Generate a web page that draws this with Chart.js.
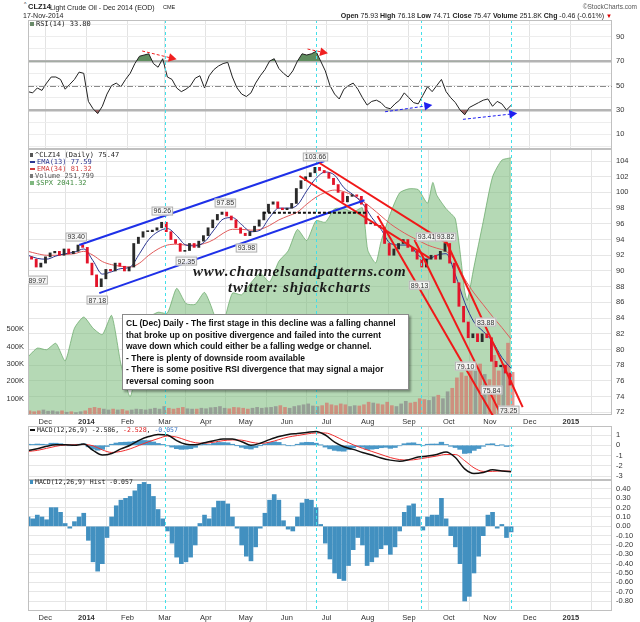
<!DOCTYPE html>
<html>
<head>
<meta charset="utf-8">
<title>CLZ14 Light Crude Oil - Dec 2014</title>
<script src="https://cdn.jsdelivr.net/npm/chart.js@4.4.1/dist/chart.umd.min.js"></script>
<style>
  html, body { margin: 0; padding: 0; background: #fff; }
  #page { position: relative; width: 640px; height: 622px; overflow: hidden;
          font-family: "Liberation Sans", Arial, sans-serif; color: #222; }
  #page canvas { position: absolute; left: 0; }
  .t { position: absolute; white-space: nowrap; line-height: 1; }
  .mono { font-family: "DejaVu Sans Mono", "Liberation Mono", monospace; font-size: 7px; }
  .key { display: inline-block; width: 5px; height: 2px; margin-right: 2px; vertical-align: middle; }
  #note { position: absolute; left: 122px; top: 314px; width: 282px; height: 71px; padding: 3px 0 0 3px;
          background: #fff; border: 1px solid #8a8a8a; box-shadow: 2px 2px 2px rgba(0,0,0,.35);
          font-weight: bold; font-size: 8.5px; line-height: 11.6px; color: #111; white-space: nowrap; }
  .wm { position: absolute; font-family: "Liberation Serif", "DejaVu Serif", serif; font-style: italic;
        font-weight: bold; font-size: 15px; letter-spacing: 0.8px; color: #1a1a1a; white-space: nowrap; line-height: 1; }
</style>
</head>
<body>
<div id="page">
  <canvas id="rsiChart" width="640" height="129" style="top:20px"></canvas>
  <canvas id="priceChart" width="640" height="278" style="top:149px"></canvas>
  <canvas id="macdChart" width="640" height="54" style="top:426px"></canvas>
  <canvas id="histChart" width="640" height="142" style="top:480px"></canvas>

  <!-- header -->
  <div class="t" style="left:24px;top:2px;font-size:5px;">^</div>
  <div class="t" style="left:28px;top:3px;font-size:7.5px;font-weight:bold;">CLZ14</div>
  <div class="t" style="left:50px;top:3.5px;font-size:7px;">Light Crude Oil - Dec 2014 (EOD)</div>
  <div class="t" style="left:163px;top:4.5px;font-size:5.5px;">CME</div>
  <div class="t" style="left:23px;top:12px;font-size:7px;">17-Nov-2014</div>
  <div class="t" style="right:3px;top:4px;font-size:6.5px;color:#555;">&copy;StockCharts.com</div>
  <div class="t" style="right:28px;top:12px;font-size:7px;">
    <b>Open</b> 75.93 <b>High</b> 76.18 <b>Low</b> 74.71 <b>Close</b> 75.47 <b>Volume</b> 251.8K <b>Chg</b> -0.46 (-0.61%) <span style="color:#d00;font-size:6px;">&#9660;</span>
  </div>

  <!-- panel legends -->
  <div class="t mono" style="left:30px;top:21px;"><span class="key" style="background:#6a8a6a;height:4px;width:4px;"></span>RSI(14) 33.80</div>
  <div class="t mono" style="left:30px;top:152px;"><span class="key" style="background:#555;height:4px;width:3px;"></span>^CLZ14 (Daily) 75.47</div>
  <div class="t mono" style="left:30px;top:159px;color:#2a3590;"><span class="key" style="background:#2a3590;"></span>EMA(13) 77.59</div>
  <div class="t mono" style="left:30px;top:166px;color:#d03c3c;"><span class="key" style="background:#d03c3c;"></span>EMA(34) 81.32</div>
  <div class="t mono" style="left:30px;top:173px;color:#555;"><span class="key" style="background:#777;height:4px;width:3px;"></span>Volume 251,799</div>
  <div class="t mono" style="left:30px;top:180px;color:#3f8a3f;"><span class="key" style="background:#7fb87f;height:4px;width:4px;"></span>$SPX 2041.32</div>
  <div class="t mono" style="left:30px;top:427px;font-size:6.5px;"><span class="key" style="background:#111;"></span>MACD(12,26,9) -2.586, <span style="color:#e02020">-2.528</span>, <span style="color:#3a78c8">-0.057</span></div>
  <div class="t mono" style="left:30px;top:479px;font-size:6.5px;"><span class="key" style="background:#3f8fbf;height:4px;width:3px;"></span>MACD(12,26,9) Hist -0.057</div>

  <!-- watermark -->
  <div class="wm" style="left:193px;top:264px;">www.channelsandpatterns.com</div>
  <div class="wm" style="left:228px;top:280px;">twitter: shjackcharts</div>

  <!-- comment box -->
  <div id="note">CL (Dec) Daily - The first stage in this decline was a falling channel<br>that broke up on positive divergence and failed into the current<br>wave down which could either be a falling wedge or channel.<br>- There is plenty of downside room available<br>- There is some positive RSI divergence that may signal a major<br>reversal coming soon</div>
</div>

<script>
// ── data: two samples a week from 18-Nov-2013 (day 0) to 17-Nov-2014 (day 364) ──
const closes = [
  91.8, 91.5, 90.5, 91.0, 91.8, 92.3, 92.5, 92.0, 92.8, 92.2,
  92.5, 93.3, 93.0, 91.0, 89.5, 88.0, 89.0, 90.2, 90.0, 91.0,
  90.6, 90.0, 90.5, 93.5, 94.3, 95.0, 95.0, 95.2, 95.5, 96.2,
  95.0, 94.0, 93.5, 92.5, 92.6, 93.5, 93.0, 93.8, 94.5, 95.5,
  96.5, 97.2, 97.5, 97.0, 96.5, 95.5, 94.8, 94.5, 95.0, 95.7,
  96.5, 97.5, 98.5, 98.8, 98.0, 97.8, 98.0, 98.6, 100.5, 101.5,
  102.0, 102.5, 103.2, 102.8, 102.5, 101.8, 101.0, 100.0, 98.8, 99.5,
  99.7, 99.5, 98.5, 96.0, 96.0, 95.8, 95.5, 93.5, 92.0, 92.8,
  93.5, 94.0, 93.0, 92.5, 91.5, 90.5, 91.5, 92.0, 91.5, 92.5,
  93.5, 91.0, 88.5, 85.5, 83.5, 81.5, 82.0, 81.0, 82.0, 81.5,
  78.5, 77.8, 78.0, 77.0, 75.47
];
const firstOpen = 92.0;

// volume in thousands of contracts
const volumes = [
  30, 25, 30, 35, 28, 30, 25, 30, 22, 25,
  20, 25, 30, 45, 50, 45, 40, 35, 40, 35,
  38, 30, 35, 40, 38, 35, 40, 45, 40, 55,
  45, 40, 45, 50, 42, 40, 40, 45, 42, 48,
  50, 55, 45, 42, 50, 48, 45, 40, 45, 50,
  45, 48, 50, 55, 60, 50, 45, 55, 60, 65,
  70, 58, 55, 60, 75, 65, 60, 70, 65, 55,
  60, 58, 65, 80, 75, 70, 65, 80, 60, 55,
  70, 85, 75, 80, 100, 95, 90, 110, 120, 100,
  140, 160, 220, 250, 230, 280, 260, 300, 240, 210,
  350, 260, 300, 420, 252
];

const rsi = [
  45, 44, 48, 46, 52, 57, 57, 55, 47, 51,
  55, 61, 60, 37, 31, 27, 33, 43, 50, 52,
  49, 55, 60, 68, 74, 75, 76, 68, 65, 72,
  57, 55, 48, 45, 47, 50, 56, 58, 48, 58,
  63, 66, 68, 69, 57, 48, 43, 41, 44, 52,
  58, 63, 70, 72, 64, 60, 57, 62, 70, 76,
  75, 76, 78, 70, 62, 50, 43, 39, 47, 50,
  52, 47, 40, 34, 37, 38, 36, 32, 31, 35,
  38, 44, 40, 36, 35, 42, 49, 45, 50, 55,
  45, 40, 36, 30, 26, 32, 34, 36, 38, 39,
  33, 37, 35, 30, 33.8
];

const macdHist = [
  0.10, 0.08, 0.12, 0.10, 0.07, 0.20, 0.20, 0.15, 0.03, -0.02,
  0.05, 0.10, 0.14, -0.15, -0.38, -0.48, -0.40, -0.12, 0.10, 0.22,
  0.28, 0.30, 0.32, 0.38, 0.45, 0.47, 0.45, 0.32, 0.18, 0.08,
  -0.05, -0.18, -0.33, -0.40, -0.38, -0.33, -0.20, 0.03, 0.12, 0.08,
  0.20, 0.27, 0.27, 0.24, 0.10, -0.02, -0.20, -0.32, -0.37, -0.22,
  -0.02, 0.14, 0.28, 0.34, 0.28, 0.06, -0.03, -0.05, 0.10, 0.25,
  0.29, 0.28, 0.20, 0.02, -0.18, -0.35, -0.50, -0.56, -0.58, -0.42,
  -0.25, -0.12, -0.20, -0.42, -0.38, -0.33, -0.24, -0.20, -0.30, -0.22,
  -0.05, 0.15, 0.22, 0.24, 0.10, -0.04, 0.10, 0.12, 0.12, 0.30,
  0.08, -0.10, -0.22, -0.40, -0.80, -0.75, -0.50, -0.32, -0.10, 0.12,
  0.15, -0.02, 0.02, -0.12, -0.06
];

// weekly samples (day 0, 7, 14 ... 364)
const ema13 = [
  92.0, 91.6, 91.5, 91.9, 92.2, 92.4, 92.8, 91.3, 89.6, 89.9,
  90.3, 90.5, 92.2, 94.0, 95.0, 95.4, 94.5, 93.3, 93.2, 93.7,
  95.2, 96.6, 96.8, 95.9, 95.0, 95.2, 96.8, 98.0, 98.0, 98.4,
  100.2, 101.8, 102.6, 102.2, 100.6, 99.7, 98.6, 96.8, 95.3, 93.5,
  93.3, 93.3, 92.0, 91.5, 92.0, 92.2, 89.5, 86.0, 83.5, 82.3,
  81.0, 79.0, 77.59
];
const ema34 = [
  92.5, 92.2, 92.0, 92.0, 92.1, 92.2, 92.5, 92.0, 91.2, 90.8,
  90.6, 90.5, 91.0, 92.0, 92.8, 93.3, 93.4, 93.3, 93.3, 93.5,
  94.0, 94.8, 95.3, 95.3, 95.2, 95.3, 95.8, 96.5, 97.0, 97.5,
  98.5, 99.4, 100.0, 100.3, 100.1, 99.6, 98.9, 98.0, 97.0, 96.0,
  95.2, 94.5, 93.9, 93.3, 92.9, 92.5, 91.3, 89.0, 87.2, 85.7,
  84.2, 82.8, 81.32
];
const macdLine = [
  -0.5, -0.35, -0.1, 0.05, 0.05, 0.0, 0.12, -0.5, -0.95, -0.8,
  -0.35, 0.0, 0.5, 0.85, 1.05, 1.0, 0.45, 0.1, 0.05, 0.25,
  0.45, 0.6, 0.6, 0.35, 0.0, 0.2, 0.55, 0.85, 1.05, 1.15,
  1.25, 1.35, 1.0, 0.3, -0.15, -0.4, -0.7, -0.95, -1.25, -1.45,
  -1.55, -1.4, -1.15, -1.05, -0.9, -0.65, -1.2, -2.3, -2.75, -2.65,
  -2.4, -2.5, -2.586
];
const signalLine = [
  -0.6, -0.5, -0.3, -0.1, 0.03, 0.05, 0.08, -0.05, -0.45, -0.7,
  -0.6, -0.35, 0.0, 0.35, 0.65, 0.9, 0.8, 0.5, 0.25, 0.2,
  0.3, 0.45, 0.52, 0.5, 0.3, 0.18, 0.3, 0.55, 0.8, 0.95,
  1.1, 1.2, 1.2, 0.9, 0.45, 0.05, -0.3, -0.6, -0.9, -1.2,
  -1.4, -1.45, -1.35, -1.2, -1.05, -0.9, -0.9, -1.5, -2.2, -2.55,
  -2.55, -2.5, -2.528
];

// S&P 500 overlay (day, close)
const spxDays = [0, 7, 14, 21, 28, 35, 42, 49, 56, 63, 70, 77, 84, 91, 98, 105, 112, 119, 126, 133,
  140, 144, 147, 154, 161, 168, 175, 182, 189, 196, 203, 210, 217, 224, 231, 238, 245, 252, 256, 262,
  266, 273, 280, 287, 294, 301, 305, 308, 315, 322, 329, 331, 336, 343, 350, 357, 364];
const spxVals = [1791, 1802, 1800, 1808, 1786, 1827, 1841, 1827, 1819, 1843, 1782, 1741, 1799, 1840, 1847, 1846, 1877, 1858, 1857, 1872,
  1845, 1815, 1830, 1871, 1869, 1884, 1896, 1885, 1911, 1924, 1951, 1937, 1962, 1960, 1977, 1977, 1973, 1978, 1925, 1909,
  1936, 1971, 1997, 2002, 2001, 1984, 2010, 1994, 1977, 1964, 1874, 1862, 1904, 1961, 2017, 2038, 2041];

// x axis: month starts (days from 18-Nov-2013)
const monthDays = [13, 44, 75, 103, 134, 164, 195, 225, 256, 287, 317, 348, 378, 409];
const monthLabels = ['Dec', '2014', 'Feb', 'Mar', 'Apr', 'May', 'Jun', 'Jul', 'Aug', 'Sep', 'Oct', 'Nov', 'Dec', '2015'];

const priceTicks = [72, 74, 76, 78, 80, 82, 84, 86, 88, 90, 92, 94, 96, 98, 100, 102, 104];
const volTicks = [100, 200, 300, 400, 500];
const rsiTicks = [0, 10, 20, 30, 40, 50, 60, 70, 80, 90, 100];
const rsiLabelled = [10, 30, 50, 70, 90];
const macdTicks = [-3, -2, -1, 0, 1];
const histTicks = [0.4, 0.3, 0.2, 0.1, 0, -0.1, -0.2, -0.3, -0.4, -0.5, -0.6, -0.7, -0.8];

// cyan dashed date markers
const markerDays = [103, 217, 296, 364];

// drawn trend lines (day, price)
const trendLines = [
  { from: [38.6, 93.3],   to: [223.4, 104.0], color: '#1e30e8' },
  { from: [53.7, 87.18],  to: [253.5, 99.0],  color: '#1e30e8' },
  { from: [219.6, 103.75], to: [315.4, 93.55], color: '#f01818' },
  { from: [204.5, 102.09], to: [302.6, 91.64], color: '#f01818' },
  { from: [263.3, 97.0],  to: [353.1, 70.75], color: '#f01818' },
  { from: [291.2, 93.94], to: [355.4, 72.03], color: '#f01818' },
  { from: [314.6, 93.94], to: [372.7, 72.66], color: '#f01818' },
  { from: [177, 97.4],    to: [255, 97.4],    color: '#111', dash: [3, 2] }
];
// price callouts (label centre day, price, text)
const priceTags = [
  [6.9, 88.84, '89.97'], [36.3, 94.32, '93.40'], [52.2, 86.29, '87.18'], [101.2, 97.63, '96.26'],
  [119.3, 91.26, '92.35'], [148.7, 98.65, '97.85'], [164.6, 92.92, '93.98'], [216.6, 104.51, '103.66'],
  [300.3, 94.32, '93.41'], [314.6, 94.32, '93.82'], [295, 88.2, '89.13'], [344.8, 83.49, '83.88'],
  [329.7, 77.89, '79.10'], [349.3, 74.83, '75.84'], [362.2, 72.28, '73.25']
];
// RSI divergence arrows (day, rsi)
const rsiArrows = [
  { from: [86, 78.3],    to: [112, 71.5],   color: '#f02020' },
  { from: [210.6, 79.9], to: [226, 76.4],   color: '#f02020' },
  { from: [269, 28.5],   to: [304.6, 34],   color: '#2020f0' },
  { from: [327.7, 22.3], to: [368.6, 27.2], color: '#2020f0' }
];

// ── helpers ──────────────────────────────────────────────
const FONT = '"Liberation Sans", Arial, sans-serif';
const DAY_STEP = 3.5;
const sampleDays = closes.map(function (c, i) { return i * DAY_STEP; });
const weekDays = ema13.map(function (v, i) { return i * 7; });
const pts = function (xs, ys) { return ys.map(function (v, i) { return { x: xs[i], y: v }; }); };
const opens = closes.map(function (c, i) { return i ? closes[i - 1] : firstOpen; });

function xAxis(showLabels, h) {
  return {
    type: 'linear', min: 0, max: 440, offset: false,
    afterBuildTicks: function (s) { s.ticks = monthDays.map(function (v) { return { value: v }; }); },
    afterFit: function (s) { s.height = h; s.paddingLeft = 0; s.paddingRight = 0; },
    grid: { color: '#e3e3e3', drawTicks: false },
    border: { display: false },
    ticks: {
      display: showLabels, autoSkip: false, maxRotation: 0, padding: 2, color: '#333',
      font: function (c) { return { family: FONT, size: 7.5, weight: /^\d/.test(monthLabels[c.index]) ? 'bold' : 'normal' }; },
      callback: function (v, i) { return monthLabels[i]; }
    }
  };
}

function yAxis(pos, min, max, tickVals, fmt, gridOpts) {
  return {
    type: 'linear', position: pos, min: min, max: max,
    afterBuildTicks: function (s) { s.ticks = tickVals.map(function (v) { return { value: v }; }); },
    afterFit: function (s) { s.width = 28; s.paddingTop = 0; s.paddingBottom = 0; },
    grid: Object.assign({ color: '#e6e6e6', drawTicks: false }, gridOpts || {}),
    border: { display: false },
    ticks: { autoSkip: false, padding: 4, color: '#333', font: { family: FONT, size: 7.5 }, callback: fmt }
  };
}

function arrowHead(ctx, x1, y1, x2, y2, size) {
  const a = Math.atan2(y2 - y1, x2 - x1);
  ctx.beginPath();
  ctx.moveTo(x2, y2);
  ctx.lineTo(x2 - size * Math.cos(a - 0.5), y2 - size * Math.sin(a - 0.5));
  ctx.lineTo(x2 - size * Math.cos(a + 0.5), y2 - size * Math.sin(a + 0.5));
  ctx.closePath();
  ctx.fill();
}

// frame + cyan markers on every panel
const panelFrame = {
  id: 'panelFrame',
  afterDatasetsDraw: function (chart) {
    const ctx = chart.ctx, a = chart.chartArea, x = chart.scales.x;
    ctx.save();
    ctx.strokeStyle = '#40e0ea'; ctx.lineWidth = 1; ctx.setLineDash([3, 3]);
    markerDays.forEach(function (d) {
      const px = Math.round(x.getPixelForValue(d)) + 0.5;
      ctx.beginPath(); ctx.moveTo(px, a.top); ctx.lineTo(px, a.bottom); ctx.stroke();
    });
    ctx.setLineDash([]);
    ctx.strokeStyle = '#c0c0c0';
    ctx.strokeRect(a.left + 0.5, a.top + 0.5, a.right - a.left - 1, a.bottom - a.top - 1);
    ctx.restore();
  }
};

// trend lines and value tags drawn in data coordinates
const overlay = {
  id: 'overlay',
  afterDatasetsDraw: function (chart, args, o) {
    const ctx = chart.ctx, a = chart.chartArea, x = chart.scales.x, y = chart.scales.y;
    const P = function (p) { return [x.getPixelForValue(p[0]), y.getPixelForValue(p[1])]; };
    ctx.save();
    ctx.beginPath(); ctx.rect(a.left, a.top, a.right - a.left, a.bottom - a.top); ctx.clip();
    (o.lines || []).forEach(function (l) {
      const p1 = P(l.from), p2 = P(l.to);
      ctx.strokeStyle = l.color; ctx.lineWidth = 2; ctx.setLineDash(l.dash || []);
      ctx.beginPath(); ctx.moveTo(p1[0], p1[1]); ctx.lineTo(p2[0], p2[1]); ctx.stroke();
    });
    ctx.setLineDash([]);
    (o.tags || []).forEach(function (t) {
      const c = P([t[0], t[1]]);
      ctx.font = '7px ' + FONT;
      const w = ctx.measureText(t[2]).width + 4;
      ctx.fillStyle = 'rgba(245,245,245,0.92)'; ctx.strokeStyle = '#b0b0b0'; ctx.lineWidth = 1;
      ctx.fillRect(c[0] - w / 2, c[1] - 4.5, w, 9);
      ctx.strokeRect(c[0] - w / 2 + 0.5, c[1] - 4.5 + 0.5, w - 1, 8);
      ctx.fillStyle = '#333'; ctx.textAlign = 'center'; ctx.textBaseline = 'middle';
      ctx.fillText(t[2], c[0], c[1] + 0.5);
    });
    ctx.restore();
  }
};

// RSI 50 line and divergence arrows
const rsiMarks = {
  id: 'rsiMarks',
  afterDatasetsDraw: function (chart) {
    const ctx = chart.ctx, a = chart.chartArea, x = chart.scales.x, y = chart.scales.y;
    ctx.save();
    ctx.strokeStyle = '#8a8a8a'; ctx.lineWidth = 1; ctx.setLineDash([6, 2, 1, 2]);
    const y50 = Math.round(y.getPixelForValue(50)) + 0.5;
    ctx.beginPath(); ctx.moveTo(a.left, y50); ctx.lineTo(a.right, y50); ctx.stroke();
    rsiArrows.forEach(function (l) {
      const x1 = x.getPixelForValue(l.from[0]), y1 = y.getPixelForValue(l.from[1]);
      const x2 = x.getPixelForValue(l.to[0]), y2 = y.getPixelForValue(l.to[1]);
      ctx.strokeStyle = l.color; ctx.fillStyle = l.color; ctx.setLineDash([3, 2]);
      ctx.beginPath(); ctx.moveTo(x1, y1); ctx.lineTo(x2 - 6, y2 - (y2 - y1) * 6 / (x2 - x1)); ctx.stroke();
      ctx.setLineDash([]);
      arrowHead(ctx, x1, y1, x2, y2, 9);
    });
    ctx.restore();
  }
};

const base = {
  responsive: false, animation: false, events: [],
  plugins: { legend: { display: false }, tooltip: { enabled: false } }
};

// ── RSI panel ──────────────────────────────────────────
new Chart(document.getElementById('rsiChart'), {
  type: 'line',
  data: {
    datasets: [
      { data: pts(sampleDays, rsi), borderColor: '#222', borderWidth: 1, pointRadius: 0,
        fill: { target: { value: 70 }, above: '#5f8d5f', below: 'rgba(0,0,0,0)' } },
      { data: pts(sampleDays, rsi), borderWidth: 0, pointRadius: 0,
        fill: { target: { value: 30 }, above: 'rgba(0,0,0,0)', below: '#966262' } }
    ]
  },
  options: Object.assign({}, base, {
    layout: { padding: { left: 28, right: 0, top: 0, bottom: 0 } },
    scales: {
      x: xAxis(false, 0),
      y: yAxis('right', -2, 103.7, rsiTicks,
        function (v) { return rsiLabelled.indexOf(v) >= 0 ? String(v) : ''; },
        { color: function (c) { return (c.tick.value === 70 || c.tick.value === 30) ? '#b4b4b4' : '#ededed'; },
          lineWidth: function (c) { return (c.tick.value === 70 || c.tick.value === 30) ? 2.5 : 1; } })
    }
  }),
  plugins: [panelFrame, rsiMarks]
});

// ── price panel ────────────────────────────────────────
new Chart(document.getElementById('priceChart'), {
  type: 'bar',
  data: {
    datasets: [
      { type: 'bar', order: 1, data: closes.map(function (c, i) { return { x: sampleDays[i], y: [opens[i], c] }; }),
        backgroundColor: closes.map(function (c, i) { return c < opens[i] ? '#e3142a' : '#2a2a2a'; }),
        barThickness: 2.2, minBarLength: 1 },
      { type: 'line', order: 2, data: pts(weekDays, ema13), borderColor: '#2a3590', borderWidth: 1,
        pointRadius: 0, cubicInterpolationMode: 'monotone' },
      { type: 'line', order: 3, data: pts(weekDays, ema34), borderColor: '#e05a5a', borderWidth: 1,
        pointRadius: 0, cubicInterpolationMode: 'monotone' },
      { type: 'bar', order: 4, yAxisID: 'vol', data: pts(sampleDays, volumes),
        backgroundColor: closes.map(function (c, i) { return c < opens[i] ? 'rgba(214,120,110,0.75)' : 'rgba(140,140,140,0.75)'; }),
        barThickness: 3 },
      { type: 'line', order: 5, yAxisID: 'spx', data: pts(spxDays, spxVals), fill: 'start',
        backgroundColor: 'rgba(120,186,120,0.55)', borderColor: 'rgba(100,165,100,0.7)', borderWidth: 1,
        pointRadius: 0, tension: 0.2 }
    ]
  },
  options: Object.assign({}, base, {
    layout: { padding: 0 },
    scales: {
      x: xAxis(true, 12),
      y: yAxis('right', 71.66, 105.53, priceTicks, function (v) { return String(v); }),
      vol: yAxis('left', 6, 1539, volTicks, function (v) { return v + 'K'; }, { drawOnChartArea: false }),
      spx: { type: 'linear', display: false, min: 1718, max: 2052 }
    },
    plugins: Object.assign({}, base.plugins, {
      overlay: { lines: trendLines, tags: priceTags }
    })
  }),
  plugins: [panelFrame, overlay]
});

// ── MACD panel ─────────────────────────────────────────
new Chart(document.getElementById('macdChart'), {
  type: 'bar',
  data: {
    datasets: [
      { type: 'line', order: 1, data: pts(weekDays, macdLine), borderColor: '#111', borderWidth: 1.5,
        pointRadius: 0, cubicInterpolationMode: 'monotone' },
      { type: 'line', order: 2, data: pts(weekDays, signalLine), borderColor: '#f03030', borderWidth: 1,
        pointRadius: 0, cubicInterpolationMode: 'monotone' },
      { type: 'bar', order: 3, data: pts(sampleDays, macdHist), backgroundColor: '#4a98c8', barThickness: 4.7 }
    ]
  },
  options: Object.assign({}, base, {
    layout: { padding: { left: 28, right: 0, top: 0, bottom: 0 } },
    scales: {
      x: xAxis(false, 0),
      y: yAxis('right', -3.39, 1.88, macdTicks, function (v) { return String(v); })
    }
  }),
  plugins: [panelFrame]
});

// ── MACD histogram panel ───────────────────────────────
new Chart(document.getElementById('histChart'), {
  type: 'bar',
  data: {
    datasets: [
      { data: pts(sampleDays, macdHist), backgroundColor: '#4290c0', barThickness: 4 }
    ]
  },
  options: Object.assign({}, base, {
    layout: { padding: { left: 28, right: 0, top: 0, bottom: 0 } },
    scales: {
      x: xAxis(true, 11),
      y: yAxis('right', -0.907, 0.496, histTicks, function (v) { return v.toFixed(2); })
    }
  }),
  plugins: [panelFrame]
});
</script>
</body>
</html>
